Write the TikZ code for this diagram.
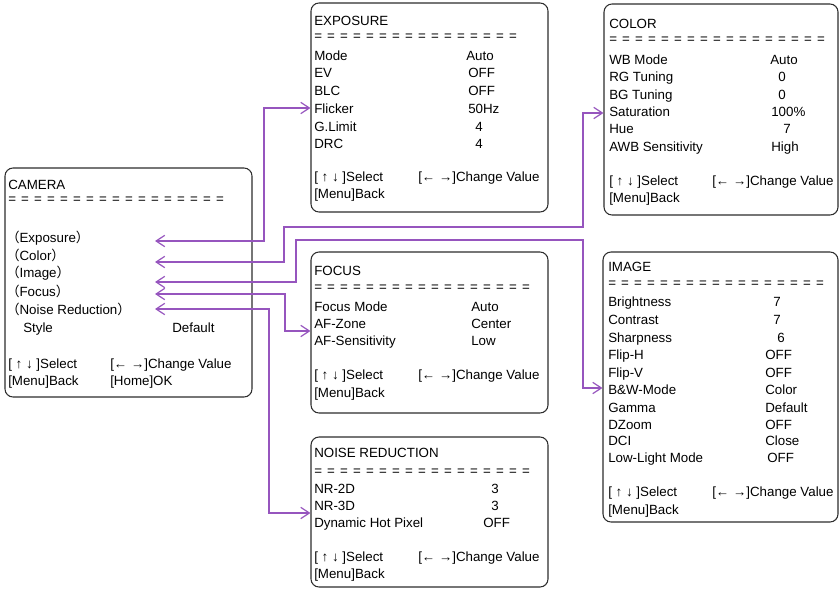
\documentclass[tikz,border=0pt]{standalone}
\usepackage{fontspec}
\setmainfont{Liberation Sans}
\newfontfamily\cjk{Noto Sans CJK SC}
\usetikzlibrary{arrows.meta,fit}
\definecolor{conncol}{RGB}{150,85,190}
\definecolor{boxcol}{RGB}{45,45,45}
\newcommand{\eqrow}[1]{\foreach \k in {1,...,#1}{=\hspace{3.9pt}}}
\newcommand{\tx}[4]{\node[txt] (#1) at (#2,#3+4.5) {#4};}
\newcommand{\sel}{[ ↑ ↓ ]Select}
\newcommand{\chg}{[← →]Change Value}
\newcommand{\pl}[1]{{\cjk （}#1{\cjk ）}}
\begin{document}
\begin{tikzpicture}[x=0.75pt,y=-0.75pt,
  txt/.style={anchor=base west,inner sep=0pt,font=\fontsize{10}{12}\selectfont,text=black},
  box/.style={draw=boxcol,line width=0.8pt,rounded corners=6pt,inner sep=0pt},
  conn/.style={draw=conncol,line width=0.9pt,{Straight Barb[length=6.5pt,width=8.5pt]}-{Straight Barb[length=6.5pt,width=8.5pt]}}]
\useasboundingbox (0,0) rectangle (839,589);

% boxes
\node[box,fit={(5,168)(252,397)}] (cambox) {};
\node[box,fit={(311,3)(548,212)}] (expbox) {};
\node[box,fit={(604,4)(838,215)}] (colbox) {};
\node[box,fit={(311,252)(548,413)}] (focbox) {};
\node[box,fit={(603,252)(838,522)}] (imgbox) {};
\node[box,fit={(311,437)(548,587)}] (nrbox) {};

% CAMERA
\tx{cam0}{8}{185}{CAMERA}
\tx{cameq}{8}{199}{\eqrow{17}}
\tx{cam1}{6}{238}{\pl{Exposure}}
\tx{cam2}{6}{256}{\pl{Color}}
\tx{cam3}{6}{273}{\pl{Image}}
\tx{cam4}{6}{292}{\pl{Focus}}
\tx{cam5}{6}{310}{\pl{Noise Reduction}}
\tx{cam6}{23}{328}{Style}
\tx{cam6v}{172}{328}{Default}
\tx{cams}{8}{364}{\sel}
\tx{camc}{110}{364}{\chg}
\tx{camm}{8}{381}{[Menu]Back}
\tx{camh}{110}{381}{[Home]OK}

% EXPOSURE
\tx{exp0}{314}{21}{EXPOSURE}
\tx{expeq}{314}{36}{\eqrow{16}}
\tx{exp1}{314}{56}{Mode}\tx{exp1v}{466}{56}{Auto}
\tx{exp2}{314}{73}{EV}\tx{exp2v}{468}{73}{OFF}
\tx{exp3}{314}{91}{BLC}\tx{exp3v}{468}{91}{OFF}
\tx{exp4}{314}{109}{Flicker}\tx{exp4v}{468}{109}{50Hz}
\tx{exp5}{314}{127}{G.Limit}\tx{exp5v}{475}{127}{4}
\tx{exp6}{314}{144}{DRC}\tx{exp6v}{475}{144}{4}
\tx{exps}{314}{177}{\sel}\tx{expc}{418}{177}{\chg}
\tx{expm}{314}{194}{[Menu]Back}

% COLOR
\tx{col0}{609}{24}{COLOR}
\tx{coleq}{609}{39}{\eqrow{17}}
\tx{col1}{609}{60}{WB Mode}\tx{col1v}{770}{60}{Auto}
\tx{col2}{609}{77}{RG Tuning}\tx{col2v}{778}{77}{0}
\tx{col3}{609}{95}{BG Tuning}\tx{col3v}{778}{95}{0}
\tx{col4}{609}{112}{Saturation}\tx{col4v}{771}{112}{100\%}
\tx{col5}{609}{129}{Hue}\tx{col5v}{783}{129}{7}
\tx{col6}{609}{147}{AWB Sensitivity}\tx{col6v}{771}{147}{High}
\tx{cols}{609}{181}{\sel}\tx{colc}{712}{181}{\chg}
\tx{colm}{609}{198}{[Menu]Back}

% FOCUS
\tx{foc0}{314}{271}{FOCUS}
\tx{foceq}{314}{287}{\eqrow{17}}
\tx{foc1}{314}{307}{Focus Mode}\tx{foc1v}{471}{307}{Auto}
\tx{foc2}{314}{324}{AF-Zone}\tx{foc2v}{471}{324}{Center}
\tx{foc3}{314}{341}{AF-Sensitivity}\tx{foc3v}{471}{341}{Low}
\tx{focs}{314}{375}{\sel}\tx{focc}{418}{375}{\chg}
\tx{focm}{314}{393}{[Menu]Back}

% IMAGE
\tx{img0}{608}{267}{IMAGE}
\tx{imgeq}{608}{283}{\eqrow{17}}
\tx{img1}{608}{302}{Brightness}\tx{img1v}{773}{302}{7}
\tx{img2}{608}{320}{Contrast}\tx{img2v}{773}{320}{7}
\tx{img3}{608}{338}{Sharpness}\tx{img3v}{777}{338}{6}
\tx{img4}{608}{355}{Flip-H}\tx{img4v}{765}{355}{OFF}
\tx{img5}{608}{373}{Flip-V}\tx{img5v}{765}{373}{OFF}
\tx{img6}{608}{390}{B\&W-Mode}\tx{img6v}{765}{390}{Color}
\tx{img7}{608}{408}{Gamma}\tx{img7v}{765}{408}{Default}
\tx{img8}{608}{425}{DZoom}\tx{img8v}{765}{425}{OFF}
\tx{img9}{608}{441}{DCI}\tx{img9v}{765}{441}{Close}
\tx{img10}{608}{458}{Low-Light Mode}\tx{img10v}{767}{458}{OFF}
\tx{imgs}{608}{492}{\sel}\tx{imgc}{712}{492}{\chg}
\tx{imgm}{608}{510}{[Menu]Back}

% NOISE REDUCTION
\tx{nr0}{314}{453}{NOISE REDUCTION}
\tx{nreq}{314}{471}{\eqrow{17}}
\tx{nr1}{314}{489}{NR-2D}\tx{nr1v}{491}{489}{3}
\tx{nr2}{314}{506}{NR-3D}\tx{nr2v}{491}{506}{3}
\tx{nr3}{314}{523}{Dynamic Hot Pixel}\tx{nr3v}{483}{523}{OFF}
\tx{nrs}{314}{557}{\sel}\tx{nrc}{418}{557}{\chg}
\tx{nrm}{314}{574}{[Menu]Back}

% connector ends
\coordinate (ce) at (155,241);
\coordinate (cc) at (155,262);
\coordinate (ci) at (155,282);
\coordinate (cf) at (155,294);
\coordinate (cn) at (155,309);
\coordinate (xe) at (expbox.west |- 0,108);
\coordinate (xc) at (colbox.west |- 0,113);
\coordinate (xi) at (imgbox.west |- 0,388);
\coordinate (xf) at (focbox.west |- 0,331);
\coordinate (xn) at (nrbox.west |- 0,513);

\draw[conn] (ce) -- ++(109,0) |- (xe);
\draw[conn] (cc) -- ++(129,0) |- (583,227) |- (xc);
\draw[conn] (ci) -- ++(141,0) |- (583,240) |- (xi);
\draw[conn] (cf) -- ++(130,0) |- (xf);
\draw[conn] (cn) -- ++(114,0) |- (xn);
\end{tikzpicture}
\end{document}
